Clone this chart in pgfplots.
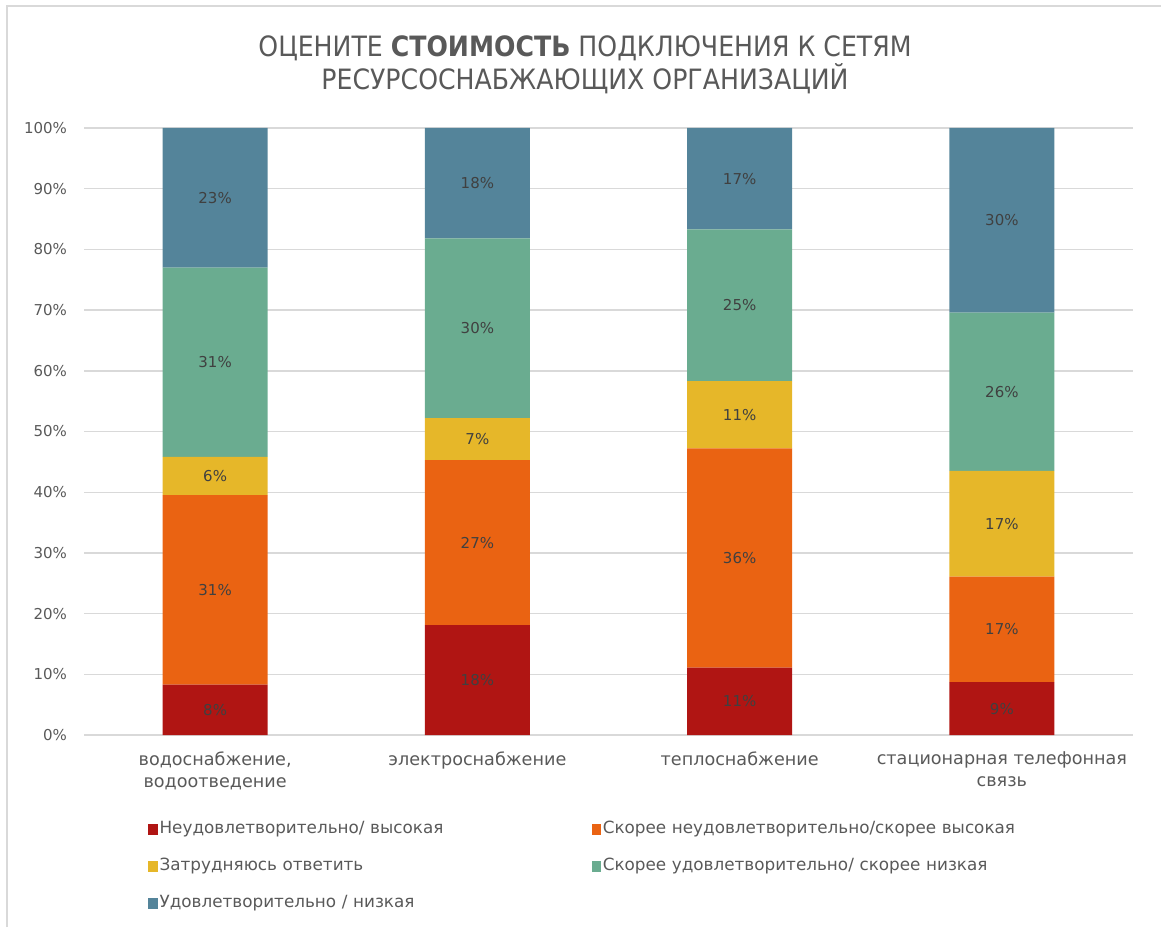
\documentclass[border=0pt]{standalone}
\usepackage{fontspec}
\setmainfont{DejaVu Sans}
\newfontfamily\titlefont[FakeStretch=0.9]{DejaVu Sans}
\usepackage{pgfplots}
\usepackage{pgfplotstable}
\pgfplotsset{compat=1.18}

\definecolor{cRed}{HTML}{B01513}
\definecolor{cOrange}{HTML}{EA6312}
\definecolor{cYellow}{HTML}{E6B729}
\definecolor{cGreen}{HTML}{6AAC90}
\definecolor{cBlue}{HTML}{54849A}
\definecolor{txtgray}{HTML}{595959}
\definecolor{lblgray}{HTML}{404040}
\definecolor{gridgray}{HTML}{D9D9D9}

% shares in percent, one row per category
\pgfplotstableread{
x  s1   s2   s3   s4   s5
0  8.3  31.2 6.3  31.2 23.0
1  18.1 27.2 6.9  29.6 18.2
2  11.1 36.1 11.1 25.0 16.7
3  8.7  17.4 17.4 26.1 30.4
}\shares

\pgfplotsset{
  seg/.style={
    fill=#1, draw=none,
  },
  % stacked bars: nodes sit in the middle of each segment already
  midlabel/.style={
    visualization depends on={\thisrow{#1}\as\rawy},
    nodes near coords={\pgfmathprintnumber[fixed,precision=0]{\rawy}\%},
    nodes near coords align={center},
    every node near coord/.append style={
      anchor=center,
      font=\fontsize{7.5}{9}\selectfont, text=lblgray},
  },
}

\begin{document}
\begin{tikzpicture}
\useasboundingbox (0,0) rectangle (580.5pt,463.5pt);
\draw[gridgray, line width=0.8pt] (3.5pt,0) -- (3.5pt,460.5pt) -- (580.5pt,460.5pt);

\node[align=center, text=txtgray, font=\titlefont\fontsize{14}{16.3}\selectfont]
  at (292.5pt,431pt) {ОЦЕНИТЕ \textbf{СТОИМОСТЬ} ПОДКЛЮЧЕНИЯ К СЕТЯМ\\РЕСУРСОСНАБЖАЮЩИХ ОРГАНИЗАЦИЙ};

\begin{axis}[
  at={(42pt,96pt)}, anchor=south west,
  scale only axis, width=524.5pt, height=303.5pt,
  ybar stacked, bar width=52.5pt,
  xmin=-0.5, xmax=3.5, ymin=0, ymax=100,
  xtick={0,1,2,3},
  xticklabels={{водоснабжение,\\водоотведение},электроснабжение,теплоснабжение,{стационарная телефонная\\связь}},
  xticklabel style={align=center, font=\fontsize{8.8}{11}\selectfont, text=txtgray, yshift=-5pt},
  ytick={0,10,...,100},
  yticklabel={\pgfmathprintnumber{\tick}\%},
  yticklabel style={font=\fontsize{7.5}{9}\selectfont, text=txtgray, xshift=-5pt},
  /pgf/number format/assume math mode=true,
  ymajorgrids, grid style={gridgray, line width=0.7pt},
  axis line style={draw=none},
  major tick length=0pt,
  clip=false,
  legend columns=2,
  legend cell align=left,
  legend image code/.code={\fill[#1,draw=none] (0pt,-2.6pt) rectangle (4.6pt,2.8pt);},
  legend style={
    at={(0.061,-0.142)}, anchor=north west,
    draw=none, fill=none, inner sep=0pt,
    font=\fontsize{8.4}{10}\selectfont, text=txtgray,
    nodes={inner xsep=1pt, inner ysep=0pt, text height=6pt, text depth=2pt, text width=215pt},
    row sep=10.5pt,
  },
]
\addplot+[seg=cRed, midlabel=s1] table[x=x, y=s1] {\shares};
\addlegendentry{Неудовлетворительно/ высокая}
\addplot+[seg=cOrange, midlabel=s2] table[x=x, y=s2] {\shares};
\addlegendentry{Скорее неудовлетворительно/скорее высокая}
\addplot+[seg=cYellow, midlabel=s3] table[x=x, y=s3] {\shares};
\addlegendentry{Затрудняюсь ответить}
\addplot+[seg=cGreen, midlabel=s4] table[x=x, y=s4] {\shares};
\addlegendentry{Скорее удовлетворительно/ скорее низкая}
\addplot+[seg=cBlue, midlabel=s5] table[x=x, y=s5] {\shares};
\addlegendentry{Удовлетворительно / низкая}
\end{axis}
\end{tikzpicture}
\end{document}
